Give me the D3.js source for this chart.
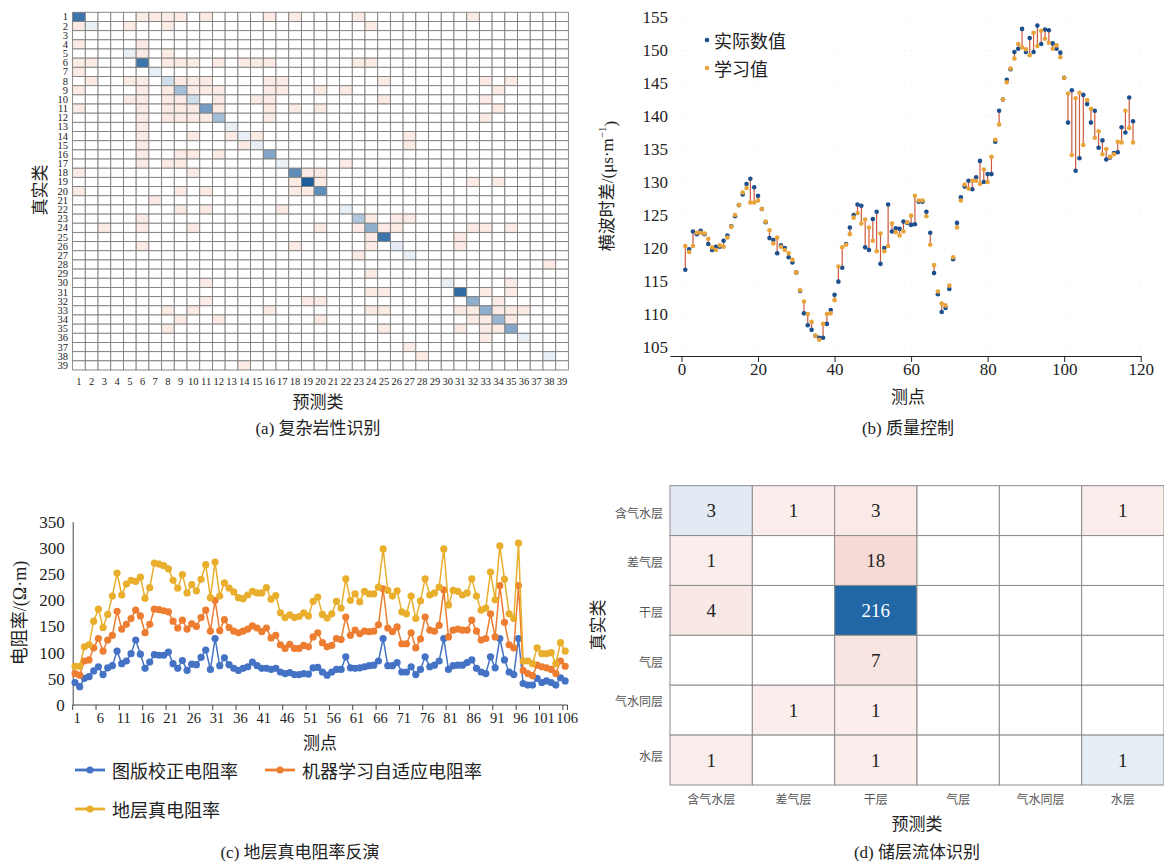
<!DOCTYPE html>
<html lang="zh">
<head>
<meta charset="utf-8">
<title>D3: 四联图</title>
<script src="https://d3js.org/d3.v7.min.js"></script>
<style type="text/css">
body { margin: 0; background: #fff; }
text { font-family: "Liberation Serif", "Noto Sans CJK SC", serif; fill: #222; }
.cjk { font-family: "Noto Sans CJK SC", "Liberation Serif", sans-serif; }
</style>
</head>
<body>
<script type="text/javascript">
// ---------- data ----------
// (a) 39 类岩性, 对角线强度 + 浅色误判格
var classesA = d3.range(1, 40);
var diagA = [0.85,0.1,0,0,0.1,0.85,0.1,0.2,0.4,0.2,0.6,0.4,0.1,0.1,0.1,0.55,0.08,0.7,1.0,0.7,
             0,0.1,0.35,0.5,0.85,0.12,0.1,0,0,0.1,0.9,0.5,0.5,0.45,0.55,0.1,0,0.1,0];
var offDiagA = [
  [1,[6,7,8,9,11,16,18,23,32]], [2,[1,5,8,24]], [4,[1,6]], [5,[6,8]],
  [6,[1,2,8,9,10,12,14,15,16,23,24]], [7,[1]], [8,[2,5,6,9,10,11,16,17,25,33,35]],
  [9,[1,6,8,10,11,12,16,17,20,22,34]], [10,[5,6,8,9,12,15,16,25,33]],
  [11,[1,6,8,9,10,12,16,18,20,34]], [12,[6,8,9,10,11,16,33]], [13,[6]],
  [14,[6,10,13,15,27]], [15,[6,14,27]], [16,[6,9,10,12]], [17,[6,8,9,22]],
  [18,[1,10,19,20]], [19,[18,20,32,34]], [20,[1,9,11,18,19]], [21,[7]],
  [22,[9,11,17]], [23,[6,24,26,27]], [24,[3,6,10,20,23,25,26,32,33,35]],
  [25,[24,31]], [26,[6,18,24,31]], [27,[23]], [28,[38]], [29,[24]], [30,[11,35]],
  [31,[24,25,33,35]], [32,[11,19,20,34]], [33,[8,10,16,24,25,31,32,34,35,36]],
  [34,[9,12,20,32,33,35]], [35,[8,25,31,33,34]], [36,[33]], [37,[27]], [38,[28]], [39,[14]]
];

// (b) 质量控制: 测点 1..118
var actualB = [116.7,119.8,122.5,122.1,122.6,122.1,120.6,119.7,120.2,120.2,
  121.1,121.9,123.3,124.8,126.5,128.1,129.7,130.5,129.2,127.9,
  125.9,123.9,121.5,121.2,119.2,120.4,120.0,118.6,117.8,116.3,
  113.5,110.1,108.3,107.6,106.7,106.4,106.4,108.5,110.6,112.9,
  114.9,117.0,120.6,123.1,125.0,126.6,126.4,120.1,119.7,124.4,
  125.5,117.6,120.0,126.6,122.5,123.0,122.9,124.0,123.8,123.5,
  123.6,127.0,127.0,125.5,122.3,116.2,113.0,110.3,110.9,113.8,
  118.3,123.8,127.7,129.3,130.2,128.9,130.7,133.2,130.0,131.2,
  131.2,136.1,140.8,142.5,145.5,147.1,149.7,150.2,153.2,149.7,
  151.8,149.7,153.7,150.9,153.1,153.0,151.0,150.2,149.6,145.8,
  139.0,143.9,131.7,133.6,143.2,141.8,139.0,140.8,135.2,136.3,
  133.4,133.7,134.4,134.5,138.3,137.5,142.8,139.2];
var learnedB = [120.3,119.4,120.3,122.3,122.3,122.2,121.4,120.1,119.7,120.4,
  120.2,121.6,123.2,125.0,126.5,128.4,129.1,126.9,126.9,127.2,
  125.9,124.0,122.7,120.7,121.6,120.2,119.7,119.2,118.2,116.3,
  113.6,111.9,110.0,108.8,106.7,106.1,108.5,110.0,110.1,112.1,
  117.2,120.1,120.5,122.1,124.6,125.3,123.7,124.3,123.1,121.1,
  119.5,122.2,119.5,120.3,123.7,122.4,121.9,122.5,123.9,124.9,
  127.9,127.2,127.2,124.8,120.5,117.4,113.4,111.6,111.3,114.3,
  118.6,123.1,127.2,129.6,129.0,130.2,130.2,129.7,131.9,130.0,
  133.8,136.4,138.7,142.5,145.1,147.2,148.7,150.9,150.4,150.1,
  149.2,152.6,150.6,152.9,151.7,151.1,150.2,150.7,148.9,145.8,
  143.4,134.1,142.7,143.5,135.6,142.4,141.1,136.7,137.7,134.2,
  135.0,133.8,134.2,136.1,136.0,140.8,138.2,136.0];
var xTicksB = [0,20,40,60,80,100,120];
var yTicksB = [105,110,115,120,125,130,135,140,145,150,155];

// (c) 地层真电阻率反演: 测点 1..106
var chartRt = [43,35,51,54,65,73,58,71,75,103, 79,84,98,124,97,70,82,96,95,95,
  101,79,70,85,66,78,77,91,105,68, 127,75,90,77,70,66,70,73,82,75,
  70,70,68,70,63,60,62,58,58,60, 59,71,72,63,57,63,68,68,92,71,
  70,71,73,75,76,84,127,75,75,81, 63,63,73,58,68,92,73,76,84,127,
  68,75,76,76,81,86,70,63,60,92, 71,127,86,63,58,127,41,38,38,51,
  43,46,43,38,52,46];
var mlRt = [60,57,84,86,109,127,103,124,133,179, 145,154,165,181,170,138,154,183,182,180,
  178,160,147,162,145,155,150,167,181,141, 200,142,163,148,141,138,141,145,151,147,
  140,147,128,133,115,108,116,108,108,114, 111,130,138,119,111,114,127,125,168,133,
  143,136,141,140,141,153,222,147,140,149, 117,117,138,109,126,168,143,141,152,220,
  130,143,145,143,143,162,141,124,127,174, 130,228,158,115,109,228,66,60,56,76,
  73,71,68,60,84,74];
var trueRt = [74,74,111,115,160,183,148,173,208,252, 210,231,238,236,244,204,224,271,269,266,
  260,238,223,249,214,230,218,240,268,205, 273,208,233,223,216,205,203,210,217,214,
  214,224,202,209,176,167,172,167,169,176, 170,198,206,173,166,174,198,185,241,200,
  212,197,217,212,212,225,298,219,208,218, 178,174,208,165,199,241,210,214,225,298,
  191,219,217,210,214,241,208,181,185,254, 201,304,240,174,165,309,84,84,79,109,
  98,98,100,79,119,103];
var seriesNamesC = ["图版校正电阻率", "机器学习自适应电阻率", "地层真电阻率"];
var yTicksC = [0,50,100,150,200,250,300,350];

// (d) 储层流体识别
var classesD = ["含气水层", "差气层", "干层", "气层", "气水同层", "水层"];
var countsD = [
  [3,1,3,0,0,1],
  [1,0,18,0,0,0],
  [4,0,216,0,0,0],
  [0,0,7,0,0,0],
  [0,1,1,0,0,0],
  [1,0,1,0,0,1]
];

// ---------- svg ----------
var svg = d3.select("body").append("svg")
  .attr("width", 1164).attr("height", 866)
  .style("display", "block");
svg.append("rect").attr("width", 1164).attr("height", 866).attr("fill", "#fff");

// ================= (a) =================
var ga = svg.append("g");
var xa = d3.scaleBand().domain(classesA).range([72.6, 568.4]);
var ya = d3.scaleBand().domain(classesA).range([12.3, 370]);
var blueA = d3.interpolateRgb("#ffffff", "#1b5c9b");
var pinkA = "#fbebe4";
var pinkSet = {};
offDiagA.forEach(function(d){ d[1].forEach(function(c){ pinkSet[d[0] + "-" + c] = true; }); });

var cellsA = [];
classesA.forEach(function(r){
  classesA.forEach(function(c){
    var fill = "#fff";
    if (r == c && diagA[r-1] > 0) fill = blueA(diagA[r-1]);
    else if (pinkSet[r + "-" + c]) fill = pinkA;
    cellsA.push({r: r, c: c, fill: fill});
  });
});
ga.selectAll("rect.cell").data(cellsA).enter().append("rect")
  .attr("class", "cell")
  .attr("x", function(d){ return xa(d.c); })
  .attr("y", function(d){ return ya(d.r); })
  .attr("width", xa.bandwidth())
  .attr("height", ya.bandwidth())
  .attr("fill", function(d){ return d.fill; })
  .attr("stroke", "#7f7f7f")
  .attr("stroke-width", 0.9);

ga.selectAll("text.rowlab").data(classesA).enter().append("text")
  .attr("x", 68)
  .attr("y", function(d){ return ya(d) + ya.bandwidth()/2; })
  .attr("text-anchor", "end").attr("dominant-baseline", "central")
  .style("font-size", "10.5px")
  .text(function(d){ return d; });
ga.selectAll("text.collab").data(classesA).enter().append("text")
  .attr("x", function(d){ return xa(d) + xa.bandwidth()/2; })
  .attr("y", 381)
  .attr("text-anchor", "middle").attr("dominant-baseline", "central")
  .style("font-size", "10.5px")
  .text(function(d){ return d; });
ga.append("text").attr("class", "cjk")
  .attr("transform", "translate(38,190) rotate(-90)")
  .attr("text-anchor", "middle").attr("dominant-baseline", "central")
  .style("font-size", "17px").text("真实类");
ga.append("text").attr("class", "cjk")
  .attr("x", 318).attr("y", 400)
  .attr("text-anchor", "middle").attr("dominant-baseline", "central")
  .style("font-size", "17px").text("预测类");
ga.append("text")
  .attr("x", 318).attr("y", 428)
  .attr("text-anchor", "middle").attr("dominant-baseline", "central")
  .style("font-size", "17px").text("(a) 复杂岩性识别");

// ================= (b) =================
var gb = svg.append("g");
var xb = d3.scaleLinear().domain([-3, 120]).range([670, 1140.7]);
var yb = d3.scaleLinear().domain([105, 155]).range([347, 17]);
var idxB = d3.range(1, actualB.length + 1);

// faint grid
gb.selectAll("line.hgrid").data(yTicksB).enter().append("line")
  .attr("x1", 670).attr("x2", 1140.7)
  .attr("y1", function(d){ return yb(d); }).attr("y2", function(d){ return yb(d); })
  .attr("stroke", "#e6e6e6").attr("stroke-width", 0.6).attr("stroke-dasharray", "1,4");
gb.selectAll("line.vgrid").data(xTicksB).enter().append("line")
  .attr("y1", 10).attr("y2", 356)
  .attr("x1", function(d){ return xb(d); }).attr("x2", function(d){ return xb(d); })
  .attr("stroke", "#e6e6e6").attr("stroke-width", 0.6).attr("stroke-dasharray", "1,4");

var axB = gb.append("g").attr("transform", "translate(0,356)")
  .call(d3.axisBottom(xb).tickValues(xTicksB).tickSize(6).tickSizeOuter(0));
axB.select(".domain").attr("stroke", "#222").attr("stroke-width", 1.2);
axB.selectAll(".tick line").attr("stroke", "#222");
axB.selectAll("text").style("font-size", "17px").attr("fill", "#222")
  .attr("font-family", "Liberation Serif").attr("y", 7).attr("dy", "0.71em");

var ayB = gb.append("g").attr("transform", "translate(672,0)")
  .call(d3.axisLeft(yb).tickValues(yTicksB).tickSize(0).tickPadding(4));
ayB.select(".domain").remove();
ayB.selectAll("text").style("font-size", "17px").attr("fill", "#222")
  .attr("font-family", "Liberation Serif");

gb.selectAll("line.err").data(idxB).enter().append("line")
  .attr("x1", function(d){ return xb(d); }).attr("x2", function(d){ return xb(d); })
  .attr("y1", function(d){ return yb(actualB[d-1]); })
  .attr("y2", function(d){ return yb(learnedB[d-1]); })
  .attr("stroke", "#cf5a3c").attr("stroke-width", 1.2);
gb.selectAll("circle.act").data(idxB).enter().append("circle")
  .attr("cx", function(d){ return xb(d); })
  .attr("cy", function(d){ return yb(actualB[d-1]); })
  .attr("r", 2.3).attr("fill", "#1d4f8e");
gb.selectAll("circle.lrn").data(idxB).enter().append("circle")
  .attr("cx", function(d){ return xb(d); })
  .attr("cy", function(d){ return yb(learnedB[d-1]); })
  .attr("r", 2.3).attr("fill", "#e8a33a");

// legend
gb.append("circle").attr("cx", 707).attr("cy", 40).attr("r", 2.3).attr("fill", "#1d4f8e");
gb.append("text").attr("class", "cjk").attr("x", 714).attr("y", 40)
  .attr("dominant-baseline", "central").style("font-size", "18px").text("实际数值");
gb.append("circle").attr("cx", 707).attr("cy", 68).attr("r", 2.3).attr("fill", "#e8a33a");
gb.append("text").attr("class", "cjk").attr("x", 714).attr("y", 68)
  .attr("dominant-baseline", "central").style("font-size", "18px").text("学习值");

var ylabB = gb.append("text")
  .attr("transform", "translate(607,186) rotate(-90)")
  .attr("text-anchor", "middle").attr("dominant-baseline", "central")
  .style("font-size", "17px");
ylabB.append("tspan").text("横波时差/(μs·m");
ylabB.append("tspan").attr("dy", "-0.45em").style("font-size", "11px").text("−1");
ylabB.append("tspan").attr("dy", "0.45em").text(")");
gb.append("text").attr("class", "cjk")
  .attr("x", 908).attr("y", 395)
  .attr("text-anchor", "middle").attr("dominant-baseline", "central")
  .style("font-size", "17px").text("测点");
gb.append("text")
  .attr("x", 908).attr("y", 428)
  .attr("text-anchor", "middle").attr("dominant-baseline", "central")
  .style("font-size", "17px").text("(b) 质量控制");

// ================= (c) =================
var gc = svg.append("g");
var idxC = d3.range(1, chartRt.length + 1);
var xc = d3.scaleBand().domain(idxC).range([72.7, 567.5]);
var yc = d3.scaleLinear().domain([0, 350]).range([705, 521.7]);
var colorsC = ["#4472c4", "#ed7d31", "#e8ae2c"];
var seriesC = [chartRt, mlRt, trueRt];

var ayC = gc.append("g").attr("transform", "translate(72.7,0)")
  .call(d3.axisLeft(yc).tickValues(yTicksC).tickSize(0).tickPadding(8).tickSizeOuter(0));
ayC.select(".domain").attr("stroke", "#444");
ayC.selectAll("text").style("font-size", "17px").attr("fill", "#222")
  .attr("font-family", "Liberation Serif");

var labC = idxC.filter(function(d){ return (d - 1) % 5 == 0; });
gc.append("line").attr("x1", 72.7).attr("x2", 567.5).attr("y1", 705).attr("y2", 705)
  .attr("stroke", "#444");
gc.selectAll("line.xtick").data(labC.concat([107])).enter().append("line")
  .attr("x1", function(d){ return d > 106 ? 567.5 : xc(d); })
  .attr("x2", function(d){ return d > 106 ? 567.5 : xc(d); })
  .attr("y1", 705).attr("y2", 710).attr("stroke", "#444");
gc.selectAll("text.xlab").data(labC).enter().append("text")
  .attr("x", function(d){ return xc(d) + xc.bandwidth()/2 + 2; })
  .attr("y", 718)
  .attr("text-anchor", "middle").attr("dominant-baseline", "central")
  .style("font-size", "14.5px")
  .text(function(d){ return d; });

var lineC = d3.line()
  .x(function(d, i){ return xc(i + 1) + xc.bandwidth()/2; })
  .y(function(d){ return yc(d); });
seriesC.forEach(function(s, k){
  gc.append("path").datum(s)
    .attr("d", lineC).attr("fill", "none")
    .attr("stroke", colorsC[k]).attr("stroke-width", 1.5);
  gc.selectAll("circle.s" + k).data(s).enter().append("circle")
    .attr("cx", function(d, i){ return xc(i + 1) + xc.bandwidth()/2; })
    .attr("cy", function(d){ return yc(d); })
    .attr("r", 3.6).attr("fill", colorsC[k]);
});

gc.append("text")
  .attr("transform", "translate(20,613) rotate(-90)")
  .attr("text-anchor", "middle").attr("dominant-baseline", "central")
  .style("font-size", "18px").text("电阻率/(Ω·m)");
gc.append("text").attr("class", "cjk")
  .attr("x", 320).attr("y", 741)
  .attr("text-anchor", "middle").attr("dominant-baseline", "central")
  .style("font-size", "17px").text("测点");

var legPos = [[75, 770], [265, 770], [75, 809]];
seriesNamesC.forEach(function(name, k){
  var lg = gc.append("g").attr("transform", "translate(" + legPos[k][0] + "," + legPos[k][1] + ")");
  lg.append("line").attr("x1", 0).attr("x2", 30).attr("stroke", colorsC[k]).attr("stroke-width", 2.8);
  lg.append("circle").attr("cx", 15).attr("r", 3.6).attr("fill", colorsC[k]);
  lg.append("text").attr("class", "cjk").attr("x", 37)
    .attr("dominant-baseline", "central").style("font-size", "18px").attr("fill", "#333")
    .text(name);
});
gc.append("text")
  .attr("x", 300).attr("y", 852)
  .attr("text-anchor", "middle").attr("dominant-baseline", "central")
  .style("font-size", "17px").text("(c) 地层真电阻率反演");

// ================= (d) =================
var gd = svg.append("g");
var xd = d3.scaleBand().domain(classesD).range([670, 1164]);
var yd = d3.scaleBand().domain(classesD).range([485.7, 785]);
var maxD = d3.max(countsD, function(r){ return d3.max(r); });
var tD = function(v){ return 0.1 + 0.9 * Math.pow(v / maxD, 0.78); };
var blueD = d3.interpolateRgb("#ffffff", "#2166a5");
var pinkD = d3.interpolateRgb("#ffffff", "#d6604d");
var cellsD = [];
countsD.forEach(function(row, i){
  row.forEach(function(v, j){
    cellsD.push({r: classesD[i], c: classesD[j], v: v, diag: i == j});
  });
});
gd.selectAll("rect.cell").data(cellsD).enter().append("rect")
  .attr("x", function(d){ return xd(d.c); })
  .attr("y", function(d){ return yd(d.r); })
  .attr("width", xd.bandwidth()).attr("height", yd.bandwidth())
  .attr("fill", function(d){
    if (d.v == 0) return "#fff";
    return d.diag ? blueD(tD(d.v)) : pinkD(tD(d.v));
  })
  .attr("stroke", "#8c8c8c").attr("stroke-width", 1);
gd.selectAll("text.val").data(cellsD.filter(function(d){ return d.v > 0; })).enter().append("text")
  .attr("x", function(d){ return xd(d.c) + xd.bandwidth()/2; })
  .attr("y", function(d){ return yd(d.r) + yd.bandwidth()/2; })
  .attr("text-anchor", "middle").attr("dominant-baseline", "central")
  .style("font-size", "19px")
  .style("fill", function(d){ return d.v > 100 ? "#fff" : "#222"; })
  .text(function(d){ return d.v; });

var rowOffD = [2, 1, 1, 1, -10, -5];
gd.selectAll("text.rowlab").data(classesD).enter().append("text").attr("class", "cjk")
  .attr("x", 663)
  .attr("y", function(d, i){ return yd(d) + yd.bandwidth()/2 + rowOffD[i]; })
  .attr("text-anchor", "end").attr("dominant-baseline", "central")
  .style("font-size", "12px").style("fill", "#555")
  .text(function(d){ return d; });
gd.selectAll("text.collab").data(classesD).enter().append("text").attr("class", "cjk")
  .attr("x", function(d){ return xd(d) + xd.bandwidth()/2; })
  .attr("y", 798)
  .attr("text-anchor", "middle").attr("dominant-baseline", "central")
  .style("font-size", "12px").style("fill", "#555")
  .text(function(d){ return d; });
gd.append("text").attr("class", "cjk")
  .attr("transform", "translate(596,625) rotate(-90)")
  .attr("text-anchor", "middle").attr("dominant-baseline", "central")
  .style("font-size", "17px").text("真实类");
gd.append("text").attr("class", "cjk")
  .attr("x", 917).attr("y", 822)
  .attr("text-anchor", "middle").attr("dominant-baseline", "central")
  .style("font-size", "17px").text("预测类");
gd.append("text")
  .attr("x", 917).attr("y", 852)
  .attr("text-anchor", "middle").attr("dominant-baseline", "central")
  .style("font-size", "17px").text("(d) 储层流体识别");
</script>
</body>
</html>
